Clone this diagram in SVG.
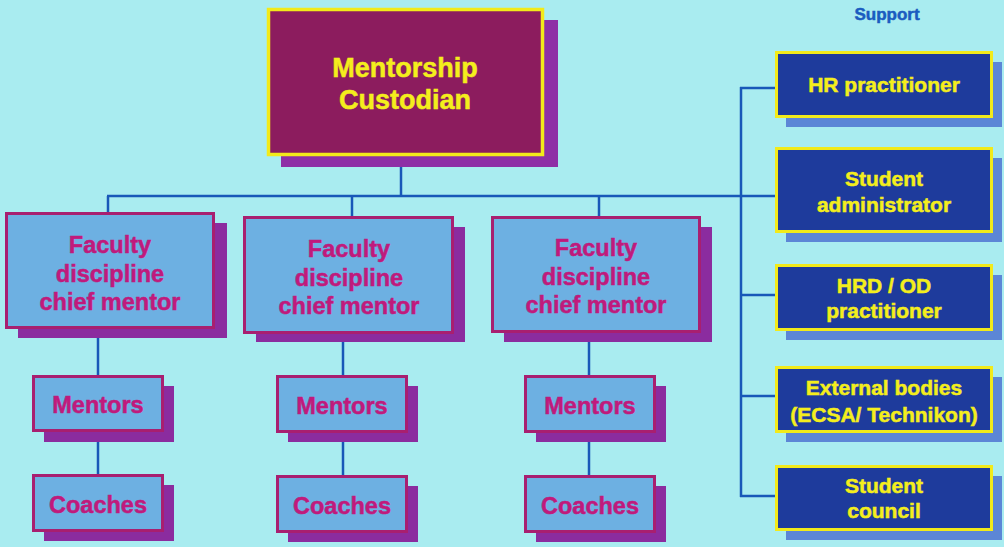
<svg xmlns="http://www.w3.org/2000/svg" width="1004" height="547" viewBox="0 0 1004 547">
<style>
.bg{fill:#a9ecf0}
.mshadow{fill:#8e2fa6}
.mbox{fill:#8c1c5e;stroke:#f2ea1a;stroke-width:3.5}
.fshadow{fill:#8b2c9f}
.fbox{fill:#6db0e2;stroke:#a81f70;stroke-width:3}
.sshadow{fill:#5c86d6}
.sbox{fill:#1e3b9c;stroke:#f2ea1a;stroke-width:3}
text{font-family:"Liberation Sans",Arial,sans-serif;font-weight:bold;text-anchor:middle;stroke-width:0.5}
.ty{fill:#f4ee1c;stroke:#f4ee1c}
.tm{fill:#c01a7c;stroke:#c01a7c}
.tb{fill:#1a5cc0;stroke:#1a5cc0}
.conn line{stroke:#1858b8;stroke-width:2.5}
</style>
<rect class="bg" x="0" y="0" width="1004" height="547"/>
<g id="connectors" class="conn">
<line x1="401" y1="155" x2="401" y2="196"/>
<line x1="107" y1="196" x2="776" y2="196"/>
<line x1="108" y1="196" x2="108" y2="213"/>
<line x1="352" y1="196" x2="352" y2="217"/>
<line x1="599" y1="196" x2="599" y2="217"/>
<line x1="741" y1="87" x2="741" y2="497"/>
<line x1="740" y1="88" x2="776" y2="88"/>
<line x1="740" y1="295" x2="776" y2="295"/>
<line x1="740" y1="396" x2="776" y2="396"/>
<line x1="740" y1="496" x2="776" y2="496"/>
<line x1="98" y1="328" x2="98" y2="376"/>
<line x1="343" y1="333" x2="343" y2="376"/>
<line x1="589" y1="332" x2="589" y2="376"/>
<line x1="98" y1="431" x2="98" y2="475"/>
<line x1="343" y1="432" x2="343" y2="476"/>
<line x1="589" y1="432" x2="589" y2="476"/>
</g>
<g id="custodian">
<rect class="mshadow" x="281" y="20" width="277" height="147"/>
<rect class="mbox" x="268.5" y="9.5" width="274" height="145"/>
<text class="ty" x="405" y="77" font-size="27">Mentorship</text>
<text class="ty" x="405" y="109" font-size="27">Custodian</text>
</g>
<g id="faculty1">
<rect class="fshadow" x="18" y="223" width="209" height="115"/>
<rect class="fbox" x="6.5" y="213.5" width="207" height="114"/>
<text class="tm" x="110" y="253" font-size="23.5">Faculty</text>
<text class="tm" x="110" y="282" font-size="23.5">discipline</text>
<text class="tm" x="110" y="310" font-size="23.5">chief mentor</text>
</g>
<g id="faculty2">
<rect class="fshadow" x="256" y="227" width="209" height="115"/>
<rect class="fbox" x="244.5" y="217.5" width="208" height="115"/>
<text class="tm" x="349" y="257" font-size="23.5">Faculty</text>
<text class="tm" x="349" y="286" font-size="23.5">discipline</text>
<text class="tm" x="349" y="314" font-size="23.5">chief mentor</text>
</g>
<g id="faculty3">
<rect class="fshadow" x="504" y="227" width="208" height="115"/>
<rect class="fbox" x="492.5" y="217.5" width="207" height="114"/>
<text class="tm" x="596" y="256" font-size="23.5">Faculty</text>
<text class="tm" x="596" y="285" font-size="23.5">discipline</text>
<text class="tm" x="596" y="313" font-size="23.5">chief mentor</text>
</g>
<g id="mentors1">
<rect class="fshadow" x="44" y="386" width="130" height="56"/>
<rect class="fbox" x="33.5" y="376.5" width="129" height="54"/>
<text class="tm" x="98" y="413" font-size="23.5">Mentors</text>
</g>
<g id="coaches1">
<rect class="fshadow" x="44" y="485" width="130" height="56"/>
<rect class="fbox" x="33.5" y="475.5" width="129" height="55"/>
<text class="tm" x="98" y="513" font-size="23.5">Coaches</text>
</g>
<g id="mentors2">
<rect class="fshadow" x="288" y="386" width="130" height="56"/>
<rect class="fbox" x="277.5" y="376.5" width="129" height="55"/>
<text class="tm" x="342" y="414" font-size="23.5">Mentors</text>
</g>
<g id="coaches2">
<rect class="fshadow" x="288" y="486" width="130" height="56"/>
<rect class="fbox" x="277.5" y="476.5" width="129" height="55"/>
<text class="tm" x="342" y="514" font-size="23.5">Coaches</text>
</g>
<g id="mentors3">
<rect class="fshadow" x="536" y="386" width="130" height="56"/>
<rect class="fbox" x="525.5" y="376.5" width="129" height="55"/>
<text class="tm" x="590" y="414" font-size="23.5">Mentors</text>
</g>
<g id="coaches3">
<rect class="fshadow" x="536" y="486" width="130" height="56"/>
<rect class="fbox" x="525.5" y="476.5" width="129" height="55"/>
<text class="tm" x="590" y="514" font-size="23.5">Coaches</text>
</g>
<g id="support-label">
<text class="tb" x="887" y="20" font-size="17">Support</text>
</g>
<g id="hr">
<rect class="sshadow" x="786" y="62" width="216" height="65"/>
<rect class="sbox" x="776.5" y="52.5" width="215" height="64"/>
<text class="ty" x="884" y="92" font-size="21">HR practitioner</text>
</g>
<g id="studentadmin">
<rect class="sshadow" x="786" y="158" width="216" height="84"/>
<rect class="sbox" x="776.5" y="148.5" width="215" height="83"/>
<text class="ty" x="884" y="186" font-size="21">Student</text>
<text class="ty" x="884" y="212" font-size="21">administrator</text>
</g>
<g id="hrdod">
<rect class="sshadow" x="786" y="275" width="216" height="65"/>
<rect class="sbox" x="776.5" y="265.5" width="215" height="64"/>
<text class="ty" x="884" y="293" font-size="21">HRD / OD</text>
<text class="ty" x="884" y="318" font-size="21">practitioner</text>
</g>
<g id="external">
<rect class="sshadow" x="786" y="377" width="216" height="65"/>
<rect class="sbox" x="776.5" y="367.5" width="215" height="64"/>
<text class="ty" x="884" y="395" font-size="21">External bodies</text>
<text class="ty" x="884" y="422" font-size="21">(ECSA/ Technikon)</text>
</g>
<g id="studentcouncil">
<rect class="sshadow" x="786" y="476" width="216" height="64"/>
<rect class="sbox" x="776.5" y="466.5" width="215" height="63"/>
<text class="ty" x="884" y="493" font-size="21">Student</text>
<text class="ty" x="884" y="518" font-size="21">council</text>
</g>
</svg>
